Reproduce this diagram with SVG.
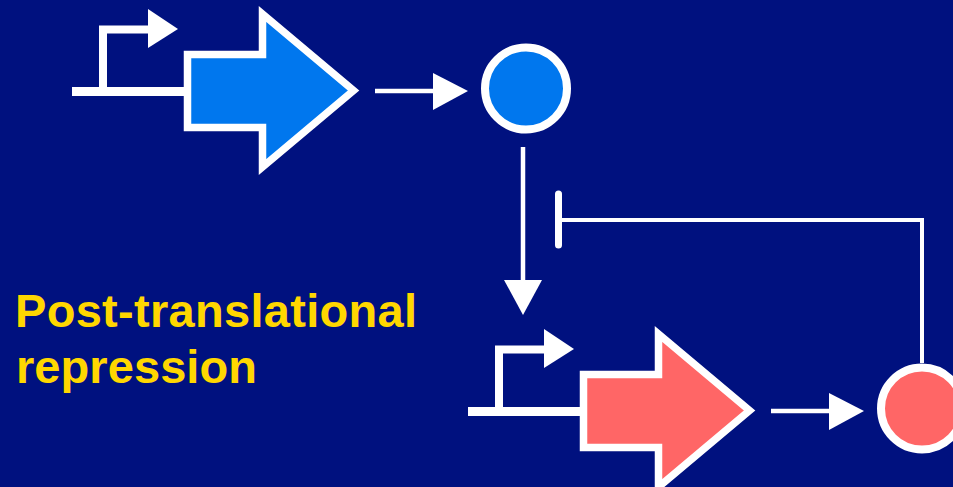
<svg xmlns="http://www.w3.org/2000/svg" width="953" height="487" viewBox="0 0 953 487">
  <style>
    .wire { fill: none; stroke: #ffffff; }
    .head { fill: #ffffff; }
    .gene { stroke: #ffffff; stroke-width: 7.5; stroke-linejoin: miter; }
    .prot { stroke: #ffffff; stroke-width: 8; }
    .label { font-family: "Liberation Sans", Arial, sans-serif; font-weight: bold; font-size: 47px; fill: #ffd700; }
  </style>
  <defs>
    <!-- promoter with bent arrow plus DNA baseline -->
    <g id="promoter">
      <path class="wire" stroke-width="9" d="M72,91.5 H186"/>
      <path class="wire" stroke-width="8" d="M103,91 V29.5 H150"/>
      <polygon class="head" points="148,9 178,29 148,48"/>
    </g>
    <!-- block arrow for the coding region -->
    <polygon id="geneShape" points="187.5,54.5 262.5,54.5 262.5,14 353.5,90.5 262.5,167 262.5,127.5 187.5,127.5"/>
    <!-- short arrow from gene to product -->
    <g id="express">
      <path class="wire" stroke-width="4.5" d="M375,91 H435"/>
      <polygon class="head" points="433,73 468,91 433,110"/>
    </g>
  </defs>

  <rect width="953" height="487" fill="#00117f"/>

  <g id="connectors">
    <use href="#express"/>
    <use href="#express" transform="translate(396,320)"/>
    <!-- activation: protein A onto gene B -->
    <path class="wire" stroke-width="4.5" d="M523,147 V282"/>
    <polygon class="head" points="504,280 542,280 523,315"/>
    <!-- repression: protein B back onto protein A activity -->
    <path class="wire" stroke-width="4" d="M922,363 V220 H558"/>
    <path class="wire" stroke-width="7" stroke-linecap="round" d="M558.5,194 V245"/>
  </g>

  <g id="geneA">
    <use href="#promoter"/>
    <use href="#geneShape" class="gene" fill="#0077ee"/>
  </g>
  <g id="proteinA">
    <circle class="prot" cx="526" cy="88.5" r="41" fill="#0077ee"/>
  </g>

  <g id="geneB" transform="translate(396,320)">
    <use href="#promoter"/>
    <use href="#geneShape" class="gene" fill="#ff6666"/>
  </g>
  <g id="proteinB">
    <circle class="prot" cx="922" cy="408.5" r="41" fill="#ff6666"/>
  </g>

  <g id="caption">
    <text class="label" x="15" y="327" textLength="402" lengthAdjust="spacing">Post-translational</text>
    <text class="label" x="16" y="383" textLength="241" lengthAdjust="spacing">repression</text>
  </g>
</svg>
